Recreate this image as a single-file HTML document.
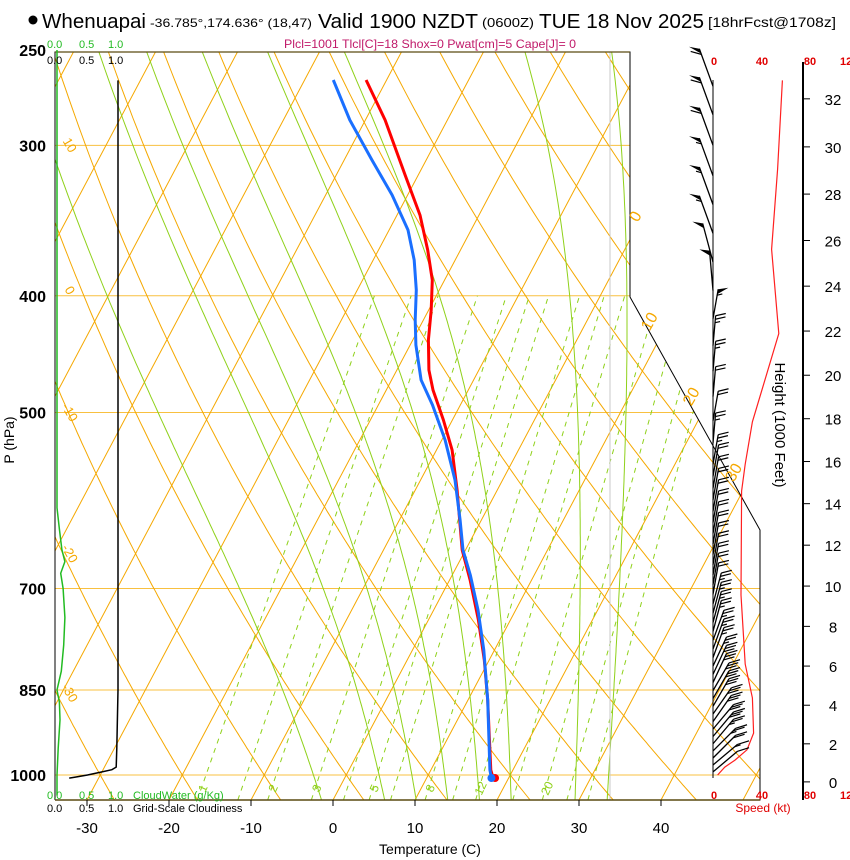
<!DOCTYPE html>
<html><head><meta charset="utf-8">
<style>
html,body{margin:0;padding:0;background:#fff;}
svg{display:block;font-family:"Liberation Sans",Arial,sans-serif;}
</style></head>
<body>
<svg id="chart" width="850" height="860" viewBox="0 0 850 860" xmlns="http://www.w3.org/2000/svg">
<defs>
<clipPath id="plotclip"><polygon points="55,52 630,52 630,297 760,530 760,800 55,800"/></clipPath>
</defs>
<g id="header">
<circle cx="33" cy="20" r="4.5" fill="#000"/>
<text x="42" y="28" font-size="20" textLength="104" lengthAdjust="spacingAndGlyphs">Whenuapai</text>
<text x="150" y="27" font-size="12" textLength="162" lengthAdjust="spacingAndGlyphs">-36.785°,174.636° (18,47)</text>
<text x="318" y="28" font-size="20" textLength="160" lengthAdjust="spacingAndGlyphs">Valid 1900 NZDT</text>
<text x="482" y="27" font-size="13" textLength="52" lengthAdjust="spacingAndGlyphs">(0600Z)</text>
<text x="539" y="28" font-size="20" textLength="165" lengthAdjust="spacingAndGlyphs">TUE 18 Nov 2025</text>
<text x="708" y="27" font-size="14" textLength="128" lengthAdjust="spacingAndGlyphs">[18hrFcst@1708z]</text>
<text x="430" y="48" font-size="12" fill="#c01a6a" text-anchor="middle" textLength="292" lengthAdjust="spacingAndGlyphs">Plcl=1001 Tlcl[C]=18 Shox=0 Pwat[cm]=5 Cape[J]= 0</text>
</g>
<g id="grid" clip-path="url(#plotclip)"></g>
<g id="series" clip-path="url(#plotclip)"></g>
<g id="frame">
<polyline points="55,800 55,52 630,52 630,297 760,530 760,800 55,800" fill="none" stroke="#000" stroke-width="1"/>
<line x1="55" y1="52" x2="630" y2="52" stroke="#5a4a10" stroke-width="1.2"/>
<line x1="55" y1="800" x2="760" y2="800" stroke="#5a4a10" stroke-width="1.5"/>
</g>
<g id="axes"></g>
<g id="winds"></g>
<g id="labels">
<text x="47" y="48" font-size="11" fill="#22bb22">0.0</text>
<text x="79" y="48" font-size="11" fill="#22bb22">0.5</text>
<text x="108" y="48" font-size="11" fill="#22bb22">1.0</text>
<text x="47" y="64" font-size="11">0.0</text>
<text x="79" y="64" font-size="11">0.5</text>
<text x="108" y="64" font-size="11">1.0</text>
<text x="47" y="799" font-size="11" fill="#22bb22">0.0 <tspan x="79">0.5</tspan><tspan x="108">1.0</tspan><tspan x="133">CloudWater (g/Kg)</tspan></text>
<text x="47" y="812" font-size="11">0.0 <tspan x="79">0.5</tspan><tspan x="108">1.0</tspan><tspan x="133">Grid-Scale Cloudiness</tspan></text>
<text x="430" y="854" font-size="14" text-anchor="middle">Temperature (C)</text>
<text transform="translate(14,440) rotate(-90)" font-size="14" text-anchor="middle">P (hPa)</text>
<text transform="translate(775,425) rotate(90)" font-size="15" text-anchor="middle">Height (1000 Feet)</text>
<text x="763" y="812" font-size="12" fill="#e00000" text-anchor="middle">Speed (kt)</text>
</g>
<script>
// ---- data ----
var tempP = [264.8,285.8,317.5,342.8,366.5,388.1,411.0,435.3,461.0,479.0,507.2,537.2,579.9,650.4,688.8,743.5,802.6,866.4,917.6,990.5,1005.8];
var tempC = [-42.5,-37.6,-31.6,-27.2,-24.0,-21.5,-19.7,-18.1,-16.1,-14.3,-11.1,-8.1,-4.9,-0.4,2.5,6.1,9.4,12.4,14.5,17.3,18.1];
var dewP = [264.8,285.8,308.6,329.9,352.7,373.6,395.6,418.9,439.5,469.9,492.9,527.0,568.9,614.1,650.4,682.2,729.4,787.4,866.4,990.5,1005.8];
var dewC = [-46.5,-41.9,-36.6,-31.9,-27.7,-25.0,-22.8,-21.0,-19.3,-16.4,-13.4,-9.6,-5.8,-2.6,-0.3,2.2,5.4,8.7,12.4,17.2,17.9];
var pTicks = [250,300,400,500,700,850,1000];
var tTicks = [-30,-20,-10,0,10,20,30,40];
var hTicks = [0,2,4,6,8,10,12,14,16,18,20,22,24,26,28,30,32];
var isoT = [-110,-100,-90,-80,-70,-60,-50,-40,-30,-20,-10,0,10,20,30,40,50];
var isoLabels = [0,10,20,30];
var thetaC = [-40,-30,-20,-10,0,10,20,30,40,50,60,70,80,90,100,110,120,130,140,150,160,170,180];
var thetaLabels = [10,0,-10,-20,-30];
var thetaLabelP = [300,396,500,655,855];
var moistT0 = [-4,4,8,12,16,20,28,32];
var mixW = [1,1.5,2,3,4,5,6,8,10,12,16,20,24,28];
var mixLabels = [1,2,3,5,8,12,20];
var spdP = [265,314,366,430,509,552,581,709,809,863,923,953,972,985,1000];
var spdKt = [57,53,48,54,32,26,23,22.5,26,32,33,27.5,17.5,9,3];
var barbP = [268,283,300,318,336,355,375,396,418,440,462,485,508,530,552,565,578,591,604,617,630,643,656,669,682,695,708,721,734,747,760,773,786,799,812,825,838,851,864,877,890,903,916,929,942,955,968,981,994];
var barbDir = [340,340,340,340,340,340,345,355,10,5,5,5,10,5,10,10,10,10,10,10,10,10,10,10,10,10,10,15,15,15,15,20,20,20,25,25,25,30,30,30,35,35,40,40,40,45,45,50,50];
var barbKt = [60,60,60,55,55,55,50,50,55,25,25,20,20,25,25,20,20,20,20,20,20,20,20,20,20,20,20,25,25,25,25,25,25,25,25,30,30,30,30,30,30,30,30,30,25,25,20,15,10];
var cloudP = [250,600,625,650,665,680,700,740,780,820,850,870,900,950,1000,1040];
var cloudW = [0,0,0.04,0.08,0.13,0.06,0.1,0.13,0.11,0.07,0,0.04,0.05,0.02,0,0];
var cloudFP = [265,850,950,985,990,995,1000,1004,1006];
var cloudF = [1.0,1.0,0.98,0.97,0.9,0.7,0.5,0.3,0.2];

// ---- axis functions ----
function yP(p){ return 775 - 523*Math.log(1000/p); }
function xT(t,p){ return 333 + 8.2*t + 0.53*(800 - yP(p)); }
function pY(y){ return 1000*Math.exp((y-775)/523); }
function xCloud(f){ return 57 + 61*f; }
function xSpd(s){ return 714 + 1.2*s; }
function hToP(hft){ return 1013.25*Math.pow(1-6.8756e-6*hft*1000,5.2559); }
var NS="http://www.w3.org/2000/svg";
function mk(tag, attrs, parent){
  var e=document.createElementNS(NS,tag);
  for(var k in attrs){ e.setAttribute(k, attrs[k]); }
  parent.appendChild(e); return e;
}
var grid=document.getElementById('grid');
var series=document.getElementById('series');
var axes=document.getElementById('axes');
var winds=document.getElementById('winds');
var pList=[]; for(var pp=1060; pp>=240; pp-=5){ pList.push(pp); }

[300,400,500,700,850,1000].forEach(function(p){
  var l=mk('line',{x1:55,x2:760,y1:yP(p),y2:yP(p),stroke:'#f8c040','stroke-width':1},grid);
  
  
});
isoT.forEach(function(t){
  var l=mk('line',{x1:xT(t,1060),y1:yP(1060),x2:xT(t,240),y2:yP(240),stroke:'#f5a800','stroke-width':1},grid);
  
  
});
thetaC.forEach(function(th){
  var d='';
  pList.forEach(function(p,i){
    var t=(th+273.15)*Math.pow(p/1000,0.286)-273.15;
    d+=(i?'L':'M')+xT(t,p).toFixed(1)+','+yP(p).toFixed(1);
  });
  var l=mk('path',{d:d,fill:'none',stroke:'#f5a800','stroke-width':1},grid);
  
  
});
function es(tc){ return 6.112*Math.exp(17.67*tc/(tc+243.5)); }
moistT0.forEach(function(t0){
  var pts=[]; var T=t0+273.15; var p=1000;
  function step(dp){
    var tc=T-273.15, e=es(tc), rs=0.622*e/(p-e);
    var num=287*T+2.5e6*rs, den=1004+2.5e6*2.5e6*rs*0.622/(287*T*T);
    T+= num/den*(dp/p); p+=dp;
  }
  var Tsave=T;
  while(p>240){ pts.push([p,T-273.15]); step(-5); }
  T=Tsave; p=1000; var low=[];
  while(p<1060){ step(5); low.unshift([p,T-273.15]); }
  pts=low.concat(pts);
  var d=''; pts.forEach(function(q,i){ d+=(i?'L':'M')+xT(q[1],q[0]).toFixed(1)+','+yP(q[0]).toFixed(1); });
  var l=mk('path',{d:d,fill:'none',stroke:'#8fd11a','stroke-width':1},grid);
  
  
});
function tdFromW(w,p){ var e=w*p/(622+w); var a=Math.log(e/6.112); return 243.5*a/(17.67-a); }
mixW.forEach(function(w){
  var p1=1049,p2=400;
  var l=mk('line',{x1:xT(tdFromW(w,p1),p1),y1:yP(p1),x2:xT(tdFromW(w,p2),p2),y2:yP(p2),stroke:'#8fd11a','stroke-width':1,'stroke-dasharray':'5,5'},grid);
  
  
});
var vl=mk('line',{x1:610,y1:52,x2:610,y2:800,stroke:'#c8c8c8','stroke-width':1},grid);


mixLabels.forEach(function(w){
  var p=1030, x=xT(tdFromW(w,p),p)+6;
  var t=mk('text',{transform:'translate('+x.toFixed(1)+',790) rotate(-65)','font-size':12,fill:'#8fd11a','text-anchor':'middle'},axes);
  t.textContent=w;
  
  
});
thetaLabels.forEach(function(th,i){
  var t=mk('text',{transform:'translate(66,'+(yP(thetaLabelP[i])+2).toFixed(1)+') rotate(60)','font-size':13,fill:'#f5a800','text-anchor':'middle'},axes);
  t.textContent=th;
  
  
});
isoLabels.forEach(function(t0){
  var bx=function(y){ return y<297?630:(y<530?630+(y-297)*130/233:760); };
  var yy=800; for(var y=800;y>=52;y-=1){ if(xT(t0,pY(y))>=bx(y)){ yy=y; break; } }
  var t=mk('text',{transform:'translate('+(bx(yy-22)+10).toFixed(1)+','+(yy-20)+') rotate(-60)','font-size':16,fill:'#f5a800','text-anchor':'middle'},axes);
  t.textContent=t0;
  
  
});

function pathFrom(P,T){ var d=''; P.forEach(function(p,i){ d+=(i?'L':'M')+xT(T[i],p).toFixed(1)+','+yP(p).toFixed(1); }); return d; }
var tl=mk('path',{d:pathFrom(tempP,tempC),fill:'none',stroke:'#ff0000','stroke-width':3,'stroke-linejoin':'round'},series);


var dl=mk('path',{d:pathFrom(dewP,dewC),fill:'none',stroke:'#1a6fff','stroke-width':3,'stroke-linejoin':'round'},series);


var n=tempP.length-1, m=dewP.length-1;
var sd=mk('circle',{cx:xT(tempC[n],tempP[n])+2,cy:yP(tempP[n]),r:4,fill:'#ff0000'},series);


var sdd=mk('circle',{cx:xT(dewC[m],dewP[m]),cy:yP(dewP[m]),r:4,fill:'#1a6fff'},series);


var cd=''; cloudP.forEach(function(p,i){ cd+=(i?'L':'M')+xCloud(cloudW[i]).toFixed(1)+','+Math.min(yP(p),800).toFixed(1); });
var cw=mk('path',{d:cd,fill:'none',stroke:'#22bb22','stroke-width':1.5},axes);


var fd=''; cloudFP.forEach(function(p,i){ fd+=(i?'L':'M')+xCloud(cloudF[i]).toFixed(1)+','+yP(p).toFixed(1); });
var cf=mk('path',{d:fd,fill:'none',stroke:'#000','stroke-width':1.5},axes);



pTicks.forEach(function(p){
  var t=mk('text',{x:46,y:yP(p)+6,'font-size':16,'font-weight':'bold','text-anchor':'end'},axes);
  t.textContent=p;
  
  
});
tTicks.forEach(function(tv){
  var x=xT(tv,pY(800));
  var l=mk('line',{x1:x,y1:800,x2:x,y2:806,stroke:'#000'},axes);
  
  
  var t=mk('text',{x:x,y:833,'font-size':15,'text-anchor':'middle'},axes);
  t.textContent=tv;
  
  
});
var ha=mk('line',{x1:803,y1:62,x2:803,y2:800,stroke:'#000','stroke-width':2},axes);


hTicks.forEach(function(h){
  var y=yP(hToP(h));
  var l=mk('line',{x1:803,y1:y,x2:810,y2:y,stroke:'#000'},axes);
  
  
  var t=mk('text',{x:833,y:y+6,'font-size':15,'text-anchor':'middle'},axes);
  t.textContent=h;
  
  
});
[[0,65],[40,65],[80,65],[0,799],[40,799],[80,799]].forEach(function(a){
  var t=mk('text',{x:xSpd(a[0]),y:a[1],'font-size':11,'font-weight':'bold',fill:'#e00000','text-anchor':'middle'},axes);
  t.textContent=a[0];
  
  
});
[65,799].forEach(function(y){
  var t=mk('text',{x:840,y:y,'font-size':11,'font-weight':'bold',fill:'#e00000'},axes);
  t.textContent='12';
  
  
});
var sline=mk('line',{x1:713,y1:80,x2:713,y2:778,stroke:'#000','stroke-width':1},winds);


var sdp=''; spdP.forEach(function(p,i){ sdp+=(i?'L':'M')+xSpd(spdKt[i]).toFixed(1)+','+yP(p).toFixed(1); });
var sp=mk('path',{d:sdp,fill:'none',stroke:'#ff2020','stroke-width':1.2},winds);


barbP.forEach(function(p,i){
  var y=yP(p), x=713, a=barbDir[i]*Math.PI/180;
  var L = p<400?40:(p<560?30:32);
  var ux=Math.sin(a), uy=-Math.cos(a);
  var side = ux<0?-1:1;
  var px = side, py = -ux*side*0.3;
  var g=mk('g',{},winds);
  
  
  var tx=x+ux*L, ty=y+uy*L;
  mk('line',{x1:x,y1:y,x2:tx,y2:ty,stroke:'#000','stroke-width':1.3},g);
  var s=barbKt[i], pos=0, fl=10;
  while(s>=50){
    var bx=tx-ux*pos, by=ty-uy*pos;
    mk('polygon',{points:bx+','+by+' '+(bx+px*fl+ux*1)+','+(by+py*fl+uy*1)+' '+(bx-ux*5)+','+(by-uy*5),fill:'#000'},g);
    pos+=6; s-=50;
  }
  while(s>=10){
    var bx=tx-ux*pos, by=ty-uy*pos;
    mk('line',{x1:bx,y1:by,x2:bx+px*fl+ux*2,y2:by+py*fl+uy*2,stroke:'#000','stroke-width':1.2},g);
    pos+=3.5; s-=10;
  }
  if(s>=5){
    var bx=tx-ux*pos, by=ty-uy*pos;
    mk('line',{x1:bx,y1:by,x2:bx+px*fl*0.5+ux,y2:by+py*fl*0.5+uy,stroke:'#000','stroke-width':1.2},g);
  }
});
</script>
</svg>
</body></html>
